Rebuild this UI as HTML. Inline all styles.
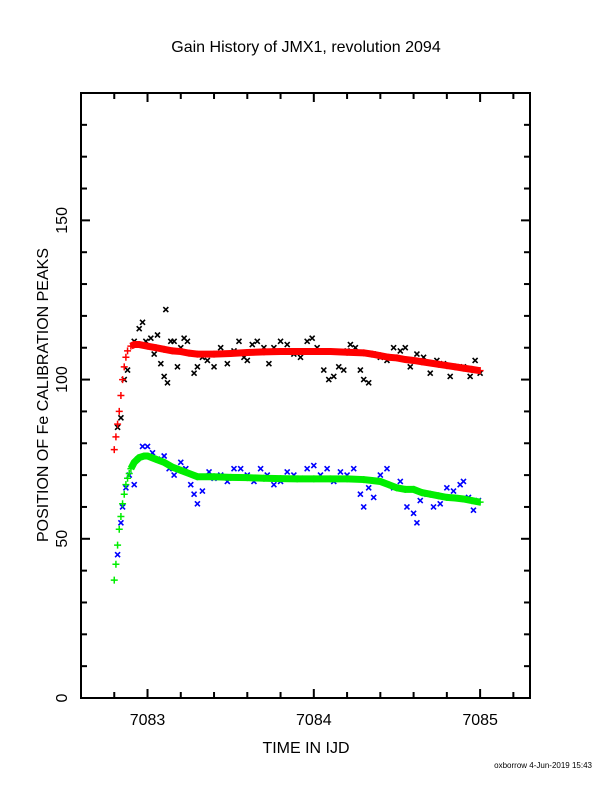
<!DOCTYPE html>
<html><head><meta charset="utf-8"><style>
body{margin:0;background:#fff;}
svg{display:block;font-family:"Liberation Sans",sans-serif;}
</style></head><body>
<svg id="chart" width="612" height="792" viewBox="0 0 612 792">
<text x="306" y="52" font-size="16" text-anchor="middle">Gain History of JMX1, revolution 2094</text>
<text x="306" y="753" font-size="16" text-anchor="middle">TIME IN IJD</text>
<text transform="translate(48,395) rotate(-90)" font-size="16" text-anchor="middle">POSITION OF Fe CALIBRATION PEAKS</text>
<text x="592" y="768" font-size="8" text-anchor="end">oxborrow  4-Jun-2019 15:43</text>
<g id="axes"></g>
<g id="marks"></g>
</svg>
<script>
const xTicks=[7083,7084,7085];
const yTicks=[0,50,100,150];
const redT=[7082.80,7082.81,7082.82,7082.83,7082.84,7082.85,7082.86,7082.87,7082.88,7082.90,7082.92,7082.95,7083.00,7083.05,7083.10,7083.15,7083.20,7083.25,7083.30,7083.40,7083.50,7083.60,7083.70,7083.80,7083.90,7084.00,7084.10,7084.20,7084.30,7084.35,7084.40,7084.45,7084.50,7084.55,7084.60,7084.65,7084.70,7084.75,7084.80,7084.85,7084.90,7084.95,7085.00];
const redY=[78,82,86,90,95,100,104,107,109,110.5,111,111,110.5,110,109.5,109,108.8,108.3,108,108,108.2,108.5,108.7,108.8,108.8,108.8,108.8,108.6,108.4,108,107.5,107,106.8,106.3,106,105.6,105.2,104.8,104.4,104,103.6,103.2,102.8];
const greenT=[7082.80,7082.81,7082.82,7082.83,7082.84,7082.85,7082.86,7082.87,7082.88,7082.89,7082.90,7082.92,7082.95,7082.98,7083.00,7083.05,7083.10,7083.15,7083.20,7083.25,7083.30,7083.40,7083.50,7083.60,7083.70,7083.80,7083.90,7084.00,7084.10,7084.20,7084.30,7084.35,7084.40,7084.45,7084.50,7084.55,7084.60,7084.65,7084.70,7084.75,7084.80,7084.85,7084.90,7084.95,7085.00];
const greenY=[37,42,48,53,57,61,64,67,69,70.5,72,74,75.5,76,76,75,74,72.5,71.5,70.5,69.5,69.5,69.3,69.2,69,68.9,68.8,68.8,68.8,68.8,68.6,68.3,68,67,66,65.5,65.5,64.5,64,63.5,63,62.8,62.5,62,61.5];
const blackT=[7082.82,7082.84,7082.86,7082.88,7082.92,7082.95,7082.97,7082.99,7083.02,7083.04,7083.06,7083.08,7083.10,7083.11,7083.12,7083.14,7083.16,7083.18,7083.20,7083.22,7083.24,7083.28,7083.30,7083.33,7083.36,7083.40,7083.44,7083.48,7083.52,7083.55,7083.58,7083.60,7083.63,7083.66,7083.70,7083.73,7083.76,7083.80,7083.84,7083.88,7083.92,7083.96,7083.99,7084.02,7084.06,7084.09,7084.12,7084.15,7084.18,7084.20,7084.22,7084.25,7084.28,7084.30,7084.33,7084.36,7084.40,7084.44,7084.48,7084.52,7084.55,7084.58,7084.62,7084.66,7084.70,7084.74,7084.78,7084.82,7084.86,7084.90,7084.94,7084.97,7085.00];
const blackY=[85,88,100,103,112,116,118,112,113,108,114,105,101,122,99,112,112,104,110,113,112,102,104,107,106,104,110,105,109,112,107,106,111,112,110,105,110,112,111,108,107,112,113,110,103,100,101,104,103,109,111,110,103,100,99,108,107,106,110,109,110,104,108,107,102,106,105,101,104,104,101,106,102];
const blueT=[7082.82,7082.84,7082.85,7082.87,7082.89,7082.92,7082.94,7082.97,7083.00,7083.03,7083.06,7083.10,7083.13,7083.16,7083.20,7083.23,7083.26,7083.28,7083.30,7083.33,7083.37,7083.40,7083.44,7083.48,7083.52,7083.56,7083.60,7083.64,7083.68,7083.72,7083.76,7083.80,7083.84,7083.88,7083.92,7083.96,7084.00,7084.04,7084.08,7084.12,7084.16,7084.20,7084.24,7084.28,7084.30,7084.33,7084.36,7084.40,7084.44,7084.48,7084.52,7084.56,7084.60,7084.62,7084.64,7084.68,7084.72,7084.76,7084.80,7084.84,7084.88,7084.90,7084.93,7084.96,7084.99];
const blueY=[45,55,60,66,70,67,75,79,79,77,75,76,72,70,74,72,67,64,61,65,71,69,70,68,72,72,70,68,72,70,67,68,71,70,69,72,73,70,72,68,71,70,72,64,60,66,63,70,72,66,68,60,58,55,62,64,60,61,66,65,67,68,63,59,62];

const L=81,R=530,T=93,B=698,X0=7082.6,X1=7085.3,Y0=0,Y1=190;
const sx=t=>L+(t-X0)/(X1-X0)*(R-L);
const sy=v=>B-(v-Y0)/(Y1-Y0)*(B-T);
const NS='http://www.w3.org/2000/svg';
function mk(tag,attrs,parent){const e=document.createElementNS(NS,tag);for(const k in attrs)e.setAttribute(k,attrs[k]);parent.appendChild(e);return e;}
const ax=document.getElementById('axes'),mg=document.getElementById('marks');
const frame=mk('rect',{x:L,y:T,width:R-L,height:B-T,fill:'none',stroke:'#000','stroke-width':2},ax);


for(let t=7082.6;t<=7085.31;t+=0.2){const x=sx(t);const maj=Math.abs(t-Math.round(t))<0.01;const len=maj?9:6;
 mk('line',{x1:x,y1:B,x2:x,y2:B-len,stroke:'#000','stroke-width':2},ax);
 mk('line',{x1:x,y1:T,x2:x,y2:T+len,stroke:'#000','stroke-width':2},ax);}
for(let v=0;v<=190;v+=10){const y=sy(v);const len=v%50===0?9:6;
 mk('line',{x1:L,y1:y,x2:L+len,y2:y,stroke:'#000','stroke-width':2},ax);
 mk('line',{x1:R,y1:y,x2:R-len,y2:y,stroke:'#000','stroke-width':2},ax);}
xTicks.forEach(t=>{const e=mk('text',{x:sx(t),y:B+27,'font-size':16,'text-anchor':'middle'},ax);e.textContent=t;
 
 });
yTicks.forEach(v=>{const e=mk('text',{transform:`translate(${L-14},${sy(v)}) rotate(-90)`,'font-size':16,'text-anchor':'middle'},ax);e.textContent=v;
 
 });
function cross(T_,Y_,color,name){const g=mk('g',{},mg);
 
 
 T_.forEach((t,i)=>{const x=sx(t),y=sy(Y_[i]),s=2.5;
  mk('path',{d:`M${x-s},${y-s}L${x+s},${y+s}M${x-s},${y+s}L${x+s},${y-s}`,stroke:color,'stroke-width':1.6,fill:'none'},g);});}
function fit(T_,Y_,color,name){const g=mk('g',{},mg);
 
 
 const startIdx=T_.findIndex(t=>t>=7082.9);
 mk('polyline',{points:T_.slice(startIdx).map((t,i)=>sx(t)+','+sy(Y_[startIdx+i])).join(' '),stroke:color,'stroke-width':7,fill:'none'},g);
 T_.forEach((t,i)=>{const x=sx(t),y=sy(Y_[i]),s=3.5;
  mk('path',{d:`M${x-s},${y}L${x+s},${y}M${x},${y-s}L${x},${y+s}`,stroke:color,'stroke-width':1.5,fill:'none'},g);});}
cross(blackT,blackY,'#000','black-scatter-series');
cross(blueT,blueY,'#0000ff','blue-scatter-series');
fit(redT,redY,'#ff0000','red-fit-series');
fit(greenT,greenY,'#00ee00','green-fit-series');
</script>
</body></html>
